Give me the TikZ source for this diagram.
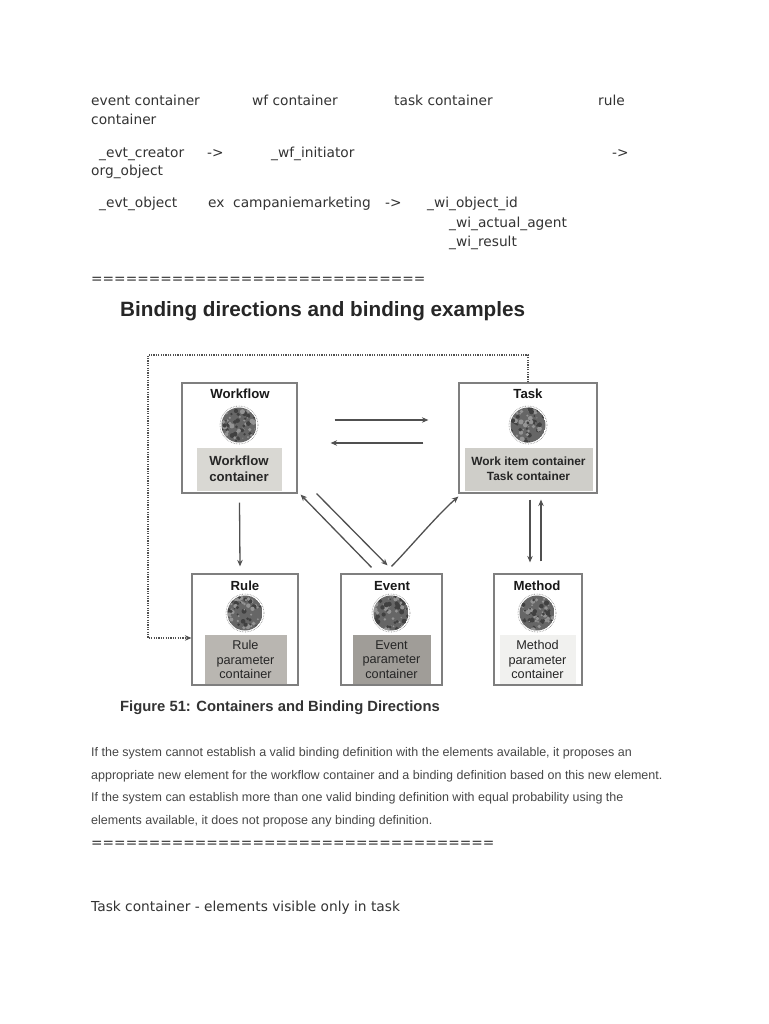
\documentclass[tikz,border=0pt]{standalone}
\usepackage{fontspec}
\setmainfont{DejaVu Sans}
\newfontfamily\arialf{Liberation Sans}
\usetikzlibrary{arrows.meta,calc}
\definecolor{txt}{HTML}{333333}
\definecolor{boxline}{HTML}{7F7F7F}
\definecolor{lineg}{HTML}{505050}
\definecolor{wfgray}{HTML}{D9D8D3}
\definecolor{taskgray}{HTML}{CFCEC9}
\definecolor{rulegray}{HTML}{B9B6B1}
\definecolor{eventgray}{HTML}{A09D98}
\definecolor{methodgray}{HTML}{F1F1EF}
\tikzset{
  x=1pt,y=-1pt,
  body/.style={anchor=base west,inner sep=0pt,text=txt,font=\fontsize{13.75}{16}\selectfont},
  para/.style={anchor=base west,inner sep=0pt,text=txt!90!white,font=\arialf\fontsize{12.5}{14}\selectfont},
  heading/.style={anchor=base west,inner sep=0pt,text=black!85,font=\arialf\bfseries\fontsize{20.7}{23}\selectfont},
  caption/.style={anchor=base west,inner sep=0pt,text=black!80,font=\arialf\bfseries\fontsize{14.8}{18}\selectfont},
  outerbox/.style={draw=boxline,line width=1.2pt,fill=white,inner sep=0pt},
  innerbox/.style={draw=#1,line width=.4pt,fill=#1,inner sep=0pt,align=center,text=black!85,font=\arialf\bfseries\fontsize{13.2}{16.5}\selectfont},
  innertask/.style={draw=#1,line width=.4pt,fill=#1,inner sep=0pt,align=center,text=black!85,font=\arialf\bfseries\fontsize{11.9}{15}\selectfont},
  innerlight/.style={draw=#1,line width=.4pt,fill=#1,inner sep=0pt,align=center,text=black!85,font=\arialf\fontsize{12.7}{14.7}\selectfont},
  boxtitle/.style={inner sep=0pt,text=black!90,font=\arialf\bfseries\fontsize{13.2}{15}\selectfont},
  link/.style={draw=lineg,line width=1.3pt,-{Stealth[length=6.5pt,width=5.5pt]}},
  dotlink/.style={draw=lineg,line width=1.2pt,dash pattern=on 1.2pt off 1.2pt,-{Stealth[length=6.5pt,width=5.5pt,sep=0pt]}},
  orb/.style={circle,inner sep=0pt,minimum size=38pt,fill=white,draw=gray,densely dotted,line width=.6pt},
}
% textured round emblem drawn on a named node
\newcommand{\emblem}[3]{%
  \node[orb] (#1) at (#2,#3) {};
  \begin{scope}
    \clip (#2,#3) circle (17.5pt);
    \fill[black!60] (#2,#3) circle (17.5pt);
    \pgfmathsetseed{#2}
    \foreach \k in {1,...,70}{
      \pgfmathsetmacro{\ax}{#2+rand*17}
      \pgfmathsetmacro{\ay}{#3+rand*17}
      \pgfmathsetmacro{\ar}{.6+rnd*2}
      \pgfmathtruncatemacro{\at}{ifthenelse(mod(\k,2)==0,42,75)}
      \fill[black!\at] (\ax,\ay) circle (\ar pt);
    }
  \end{scope}
}
\begin{document}
\begin{tikzpicture}
\useasboundingbox[fill=white] (0,0) rectangle (768,1024);
% top text
\node[body] (t1) at (91,105.5) {event container};
\node[body] (t2) at (252,105.5) {wf container};
\node[body] (t3) at (394,105.5) {task container};
\node[body] (t4) at (598,105.5) {rule};
\node[body] (t5) at (91,125) {container};
\node[body] (t6) at (99,157.5) {\_evt\_creator};
\node[body] (t7) at (207,157.5) {->};
\node[body] (t8) at (271,157.5) {\_wf\_initiator};
\node[body] (t9) at (612,157.5) {->};
\node[body] (t10) at (91,176) {org\_object};
\node[body] (t11) at (99,208) {\_evt\_object};
\node[body] (t12) at (208,208) {ex};
\node[body] (t13) at (233,208) {campaniemarketing};
\node[body] (t14) at (385,208) {->};
\node[body] (t15) at (427,208) {\_wi\_object\_id};
\node[body] (t16) at (449,227) {\_wi\_actual\_agent};
\node[body] (t17) at (449,246) {\_wi\_result};
\node[body] (eq1) at (91,283) {=============================};
\node[heading] (title) at (120,316.5) {Binding directions and binding examples};
% boxes
\node[outerbox,minimum width=115pt,minimum height=110pt] (wf) at (239.5,438) {};
\node[outerbox,minimum width=138pt,minimum height=110pt] (task) at (528,438) {};
\node[outerbox,minimum width=106pt,minimum height=111pt] (rule) at (245,629.5) {};
\node[outerbox,minimum width=101pt,minimum height=111pt] (event) at (391.5,629.5) {};
\node[outerbox,minimum width=88pt,minimum height=111pt] (method) at (538,629.5) {};
% titles
\node[boxtitle] (wft) at (240,394) {Workflow};
\node[boxtitle] (taskt) at (528,394) {Task};
\node[boxtitle] (rulet) at (245,585.5) {Rule};
\node[boxtitle] (eventt) at (392,586) {Event};
\node[boxtitle] (methodt) at (537,585.5) {Method};
% emblems
\emblem{wfo}{239}{425}
\emblem{tasko}{528}{425}
\emblem{ruleo}{245}{613}
\emblem{evento}{391}{613}
\emblem{methodo}{537}{613}
% inner boxes
\node[innerbox=wfgray,minimum width=84pt,minimum height=42pt] (wfc) at (239,469) {Workflow\\container};
\node[innertask=taskgray,minimum width=127pt,minimum height=42pt] (taskc) at (528.5,469) {Work item container\\Task container};
\node[innerlight=rulegray,minimum width=81pt,minimum height=48pt] (rulec) at (245.5,659.5) {Rule\\parameter\\container};
\node[innerlight=eventgray,minimum width=77pt,minimum height=48pt] (eventc) at (391.5,659.5) {Event\\parameter\\container};
\node[innerlight=methodgray,minimum width=75pt,minimum height=48pt] (methodc) at (537.5,659.5) {Method\\parameter\\container};
% connectors
\coordinate (wfR1) at ([shift={(37,-18)}]wf.east);
\coordinate (taskL1) at ([shift={(-30,-18)}]task.west);
\coordinate (wfR2) at ([shift={(33,5)}]wf.east);
\coordinate (taskL2) at ([shift={(-35,5)}]task.west);
\draw[link] (wfR1) -- (taskL1);
\draw[link] (taskL2) -- (wfR2);
\draw[link] ([yshift=-9pt]wf.south) -- ([xshift=-5pt,yshift=7pt]rule.north);
\draw[link] ([xshift=-20pt,yshift=6pt]event.north) -- ([xshift=3pt,yshift=-1pt]wf.south east);
\draw[link] ([xshift=19pt,yshift=0pt]wf.south east) -- ([xshift=-4pt,yshift=8pt]event.north);
\draw[link] ([yshift=7pt]event.north) .. controls ($(event.north)+(15,-22)$) and ($(task.south west)+(-20,20)$) .. ([yshift=-3pt]task.south west);
\draw[link] ([xshift=2pt,yshift=-6pt]task.south) -- ([xshift=-8pt,yshift=11pt]method.north);
\draw[link] ([xshift=3pt,yshift=12pt]method.north) -- ([xshift=13pt,yshift=-6pt]task.south);
\draw[dotlink] (task.north) |- (148,355) |- ([yshift=-8.5pt]rule.west);
% lower text
\node[caption] (fig) at (120,711) {Figure 51: Containers and Binding Directions};
\node[para] (p1) at (91,756.5) {If the system cannot establish a valid binding definition with the elements available, it proposes an};
\node[para] (p2) at (91,779) {appropriate new element for the workflow container and a binding definition based on this new element.};
\node[para] (p3) at (91,801.5) {If the system can establish more than one valid binding definition with equal probability using the};
\node[para] (p4) at (91,824) {elements available, it does not propose any binding definition.};
\node[body] (eq2) at (91,847) {===================================};
\node[body] (last) at (91,911) {Task container - elements visible only in task};
\end{tikzpicture}
\end{document}
